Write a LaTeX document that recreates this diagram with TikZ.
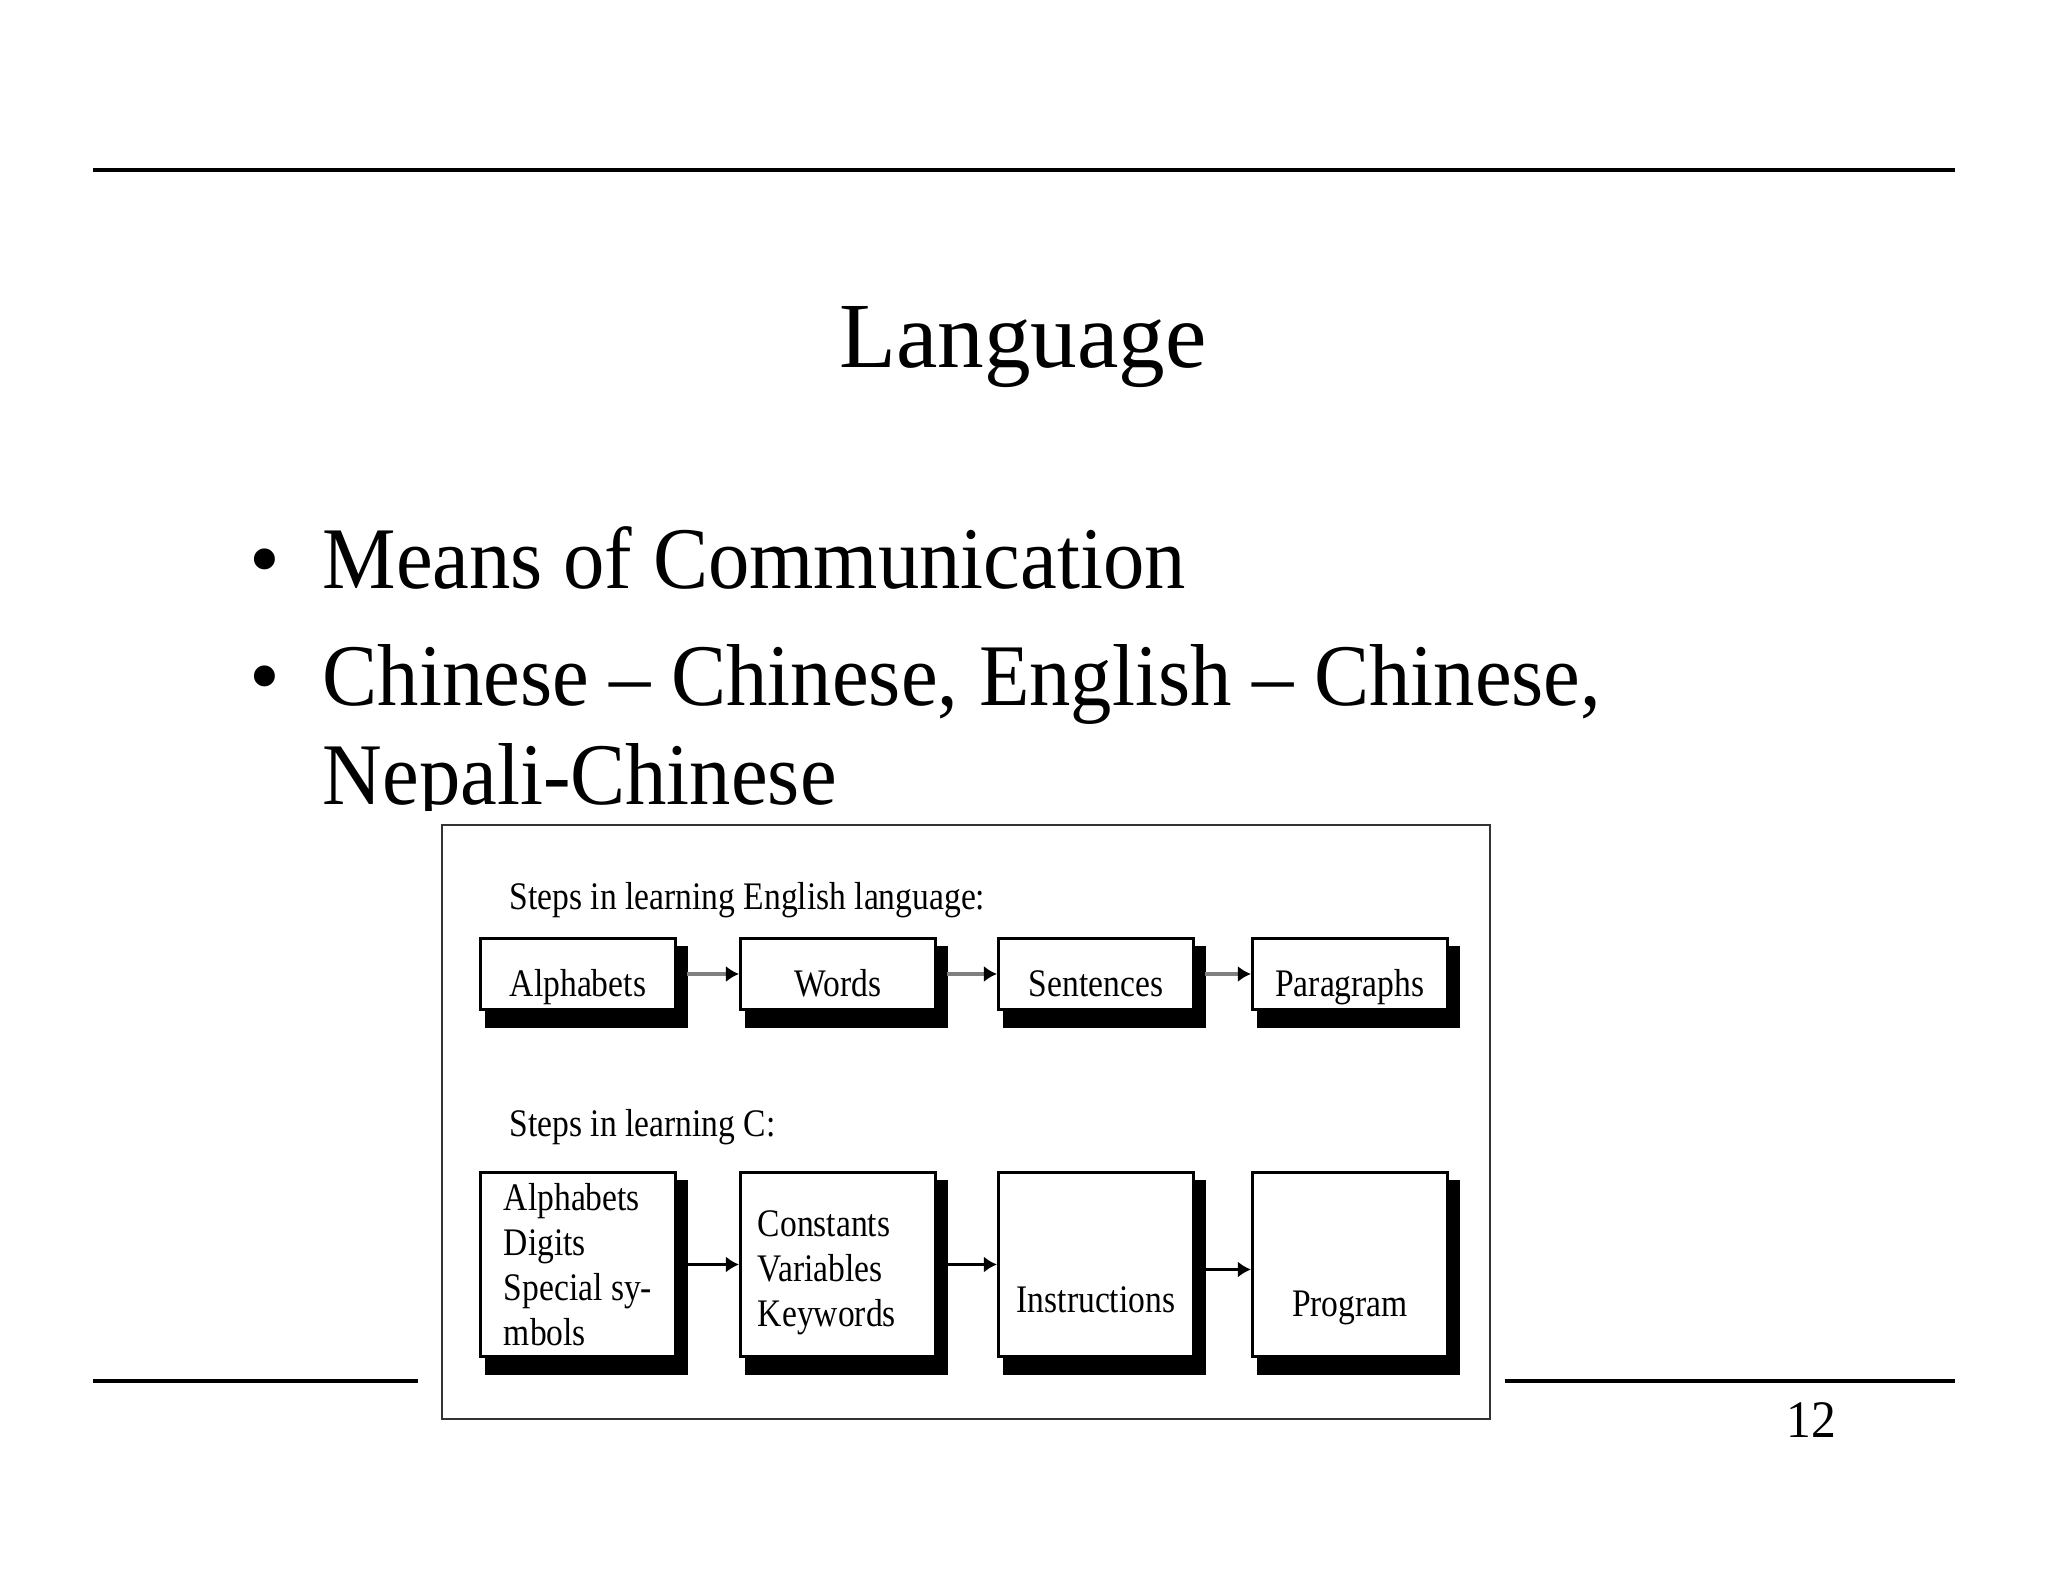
\documentclass[tikz,border=0pt]{standalone}
\usepackage{fontspec}
\setmainfont{Liberation Serif}
\newfontfamily\bodyfont[FakeStretch=0.94]{Liberation Serif}
\newfontfamily\insetfont[FakeStretch=0.86]{Liberation Serif}
\usetikzlibrary{arrows.meta,positioning,calc,backgrounds}
\tikzset{
  titletext/.style ={anchor=base, inner sep=0pt,
                     font=\fontsize{26.5}{30}\selectfont},
  bullettext/.style={anchor=base west, inner sep=0pt,
                     font=\bodyfont\fontsize{25}{30}\selectfont},
  bulletdot/.style ={anchor=base, inner sep=0pt,
                     font=\fontsize{25}{30}\selectfont},
  steptext/.style  ={anchor=base west, inner sep=0pt,
                     font=\insetfont\fontsize{11.1}{12.8}\selectfont},
  stepbox/.style   ={draw, line width=0.8pt, fill=white, inner sep=0pt,
                     minimum width=1.95cm, minimum height=#1,
                     font=\insetfont\fontsize{11.1}{12.8}\selectfont},
  stepbox/.default=0.71cm,
  wordbox/.style   ={stepbox, text height=0.44cm, text depth=0pt},
  listbox/.style   ={stepbox=1.84cm, align=left},
  bigbox/.style    ={stepbox=1.84cm, text height=#1, text depth=0pt},
  rule/.style      ={line width=1.1pt},
  garr/.style      ={-{Latex[length=0.13cm,width=0.16cm,color=black]},
                     line width=1.2pt, draw=gray},
  barr/.style      ={-{Latex[length=0.13cm,width=0.16cm]}, line width=0.9pt},
}
\begin{document}
\begin{tikzpicture}[x=0.01cm, y=-0.01cm]
  \useasboundingbox (0,0) rectangle (2048,1582);
  \begin{scope}[on background layer]
    \fill[white] (0,0) rectangle (2048,1582);
  \end{scope}

  % slide
  \draw[rule] (93,170) -- (1955,170);
  \node[titletext] (title) at (1023,367) {Language};
  \node[bulletdot] (dot1) at (265,588) {•};
  \node[bullettext] (means) at (322,588) {Means of Communication};
  \node[bulletdot] (dot2) at (265,705) {•};
  \node[bullettext] (chinese) at (322,705)
        {Chinese – Chinese, English – Chinese,};
  \begin{scope}
    \clip (0,0) rectangle (2048,810);
    \node[bullettext] (nepali) at (322,804) {Nepali-Chinese};
  \end{scope}
  \draw[rule] (93,1381) -- (418,1381);
  \draw[rule] (1505,1381) -- (1955,1381);
  \node[anchor=base, inner sep=0pt, font=\bodyfont\fontsize{15}{17}\selectfont]
        (pageno) at (1811,1437) {12};

  % inset picture
  \draw[line width=0.8pt, black!80] (442,825) rectangle (1490,1419);
  \node[steptext] (eng) at (509,909) {Steps in learning English language:};
  \node[steptext] (cee) at (509,1136) {Steps in learning C:};

  \node[wordbox] (alpha) at (578,974) {Alphabets};
  \node[wordbox, right=0.62cm of alpha] (words) {Words};
  \node[wordbox, right=0.6cm of words] (sent) {Sentences};
  \node[wordbox, right=0.56cm of sent] (para) {Paragraphs};

  \node[listbox, below=1.6cm of alpha] (chars)
        {Alphabets\\Digits\\Special sy-\\mbols};
  \node[listbox, below=1.6cm of words, text width=1.6cm, inner xsep=0.175cm,
        text height=0.43cm] (toks)
        {Constants\\Variables\\Keywords};
  \node[bigbox=0.96cm, below=1.6cm of sent] (instr) {Instructions};
  \node[bigbox=1.04cm, below=1.6cm of para] (prog) {Program};

  \begin{scope}[on background layer]
    \foreach \b in {alpha,words,sent,para,chars,toks,instr,prog}
      \fill ($(\b.north west)+(6,9)$) rectangle ($(\b.south east)+(11,17)$);
  \end{scope}

  \draw[garr] ([xshift=0.1cm]alpha.east) -- (words.west);
  \draw[garr] ([xshift=0.1cm]words.east) -- (sent.west);
  \draw[garr] ([xshift=0.1cm]sent.east) -- (para.west);
  \draw[barr] ([xshift=0.1cm]chars.east) -- (toks.west);
  \draw[barr] ([xshift=0.1cm]toks.east) -- (instr.west);
  \draw[barr] ([yshift=-0.05cm]instr.east) -- ([yshift=-0.05cm]prog.west);
\end{tikzpicture}
\end{document}
